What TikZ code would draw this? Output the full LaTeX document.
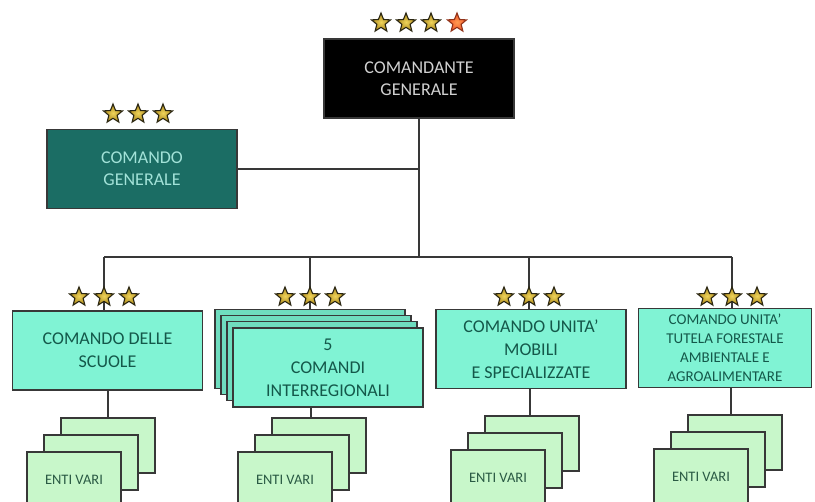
\documentclass[tikz,border=0pt]{standalone}
\usepackage{fontspec}
\setmainfont{Carlito}
\usetikzlibrary{shapes.geometric}

\definecolor{linec}{HTML}{383838}
\definecolor{tealdark}{HTML}{1B6D64}
\definecolor{tealtext}{HTML}{A2E2D8}
\definecolor{aqua}{HTML}{80F3D4}
\definecolor{aquaback}{HTML}{6FDDBF}
\definecolor{aquatext}{HTML}{14584A}
\definecolor{mint}{HTML}{C8F7CA}
\definecolor{mintext}{HTML}{2A5A44}
\definecolor{starfill}{HTML}{A8851A}
\definecolor{starin}{HTML}{F0D45A}
\definecolor{starline}{HTML}{2A2612}
\definecolor{redstar}{HTML}{F0542A}
\definecolor{redin}{HTML}{FF9A50}

\tikzset{
  conn/.style={draw=linec, line width=1.6pt},
  orgbox/.style={draw=linec, line width=1.3pt, align=center, inner sep=0pt,
    minimum width=190pt, minimum height=79pt},
  chiefbox/.style={orgbox, fill=black, text=black!18,
    font=\fontsize{18}{22}\selectfont},
  staffbox/.style={orgbox, fill=tealdark, text=tealtext,
    font=\fontsize{18}{22}\selectfont},
  unitbox/.style={orgbox, fill=aqua, text=aquatext,
    font=\fontsize{18}{23}\selectfont},
  layerbox/.style={orgbox, fill=aquaback},
  entibox/.style={draw=linec, line width=1.2pt, fill=mint, text=mintext,
    minimum width=94pt, minimum height=55pt, inner sep=0pt,
    font=\fontsize{14.5}{16}\selectfont},
  goldstar/.style={star, star points=5, star point ratio=2.3, minimum size=20pt,
    inner sep=0pt, draw=starline, line width=1.1pt,
    inner color=starin, outer color=starfill},
  redstarnode/.style={goldstar, inner color=redin, outer color=redstar,
    draw=redstar!60!black},
}

\begin{document}
\begin{tikzpicture}[x=1pt, y=-1pt]
  \useasboundingbox (0,0) rectangle (815,502);

  % top command boxes
  \node[chiefbox] (cdt) at (419,78.5) {COMANDANTE\\GENERALE};
  \node[staffbox] (cg) at (142,169) {COMANDO\\GENERALE};

  % ranks above the top boxes
  \foreach \n/\x in {a/381,b/406,c/431}
    \node[goldstar] (sc\n) at (\x,23) {};
  \node[redstarnode] (scd) at (457,23) {};
  \foreach \n/\x in {a/113,b/138,c/163}
    \node[goldstar] (sg\n) at (\x,114) {};

  % unit boxes
  \node[unitbox] (u1) at (107.5,350.5) {COMANDO DELLE\\SCUOLE};
  \node[layerbox] (u2c) at (310,349) {};
  \node[layerbox] (u2b) at (316,355) {};
  \node[layerbox] (u2a) at (322,361) {};
  \node[unitbox] (u2) at (328,367.5) {5\\COMANDI\\INTERREGIONALI};
  \node[unitbox] (u3) at (531,349) {COMANDO UNITA'\\MOBILI\\E SPECIALIZZATE};
  \node[unitbox, minimum width=173pt, font=\fontsize{15}{19}\selectfont]
    (u4) at (725,348) {COMANDO UNITA'\\TUTELA FORESTALE\\AMBIENTALE E\\AGROALIMENTARE};

  % bus and connectors
  \coordinate (bus) at (420,257);
  \coordinate (b1) at (104,297);
  \coordinate (b2) at (310,297);
  \coordinate (b3) at (529,297);
  \coordinate (b4) at (732,297);
  \draw[conn] (cdt.south) -- (cdt.south |- bus);
  \draw[conn] (cg.east) -- (cg.east -| cdt.south);
  \draw[conn] (b1 |- bus) -- (b4 |- bus);
  \draw[conn] (b1 |- bus) -- (b1 |- u1.north);
  \draw[conn] (b2 |- bus) -- (b2 |- u2c.north);
  \draw[conn] (b3 |- bus) -- (b3 |- u3.north);
  \draw[conn] (b4 |- bus) -- (b4 |- u4.north);

  % ranks above the unit boxes
  \foreach \u/\x in {1/104,2/310,3/529,4/732} {
    \node[goldstar] (s\u a) at (\x-25,297) {};
    \node[goldstar] (s\u b) at (\x,297) {};
    \node[goldstar] (s\u c) at (\x+25,297) {};
  }

  % stacks of subordinate offices
  \foreach \u/\x/\y in {1/108/445.5,2/319/445.5,3/532/443.5,4/735/442.5} {
    \node[entibox] (e\u a) at (\x,\y) {};
    \node[entibox] (e\u b) at (\x-17,\y+17) {};
    \node[entibox] (e\u c) at (\x-34,\y+34) {ENTI VARI};
  }
  \draw[conn] (e1a.north) -- (e1a.north |- u1.south);
  \draw[conn] ([xshift=-8pt]e2a.north) -- ([xshift=-8pt]e2a.north |- u2.south);
  \draw[conn] ([xshift=-2pt]e3a.north) -- ([xshift=-2pt]e3a.north |- u3.south);
  \draw[conn] ([xshift=-4pt]e4a.north) -- ([xshift=-4pt]e4a.north |- u4.south);
\end{tikzpicture}
\end{document}
